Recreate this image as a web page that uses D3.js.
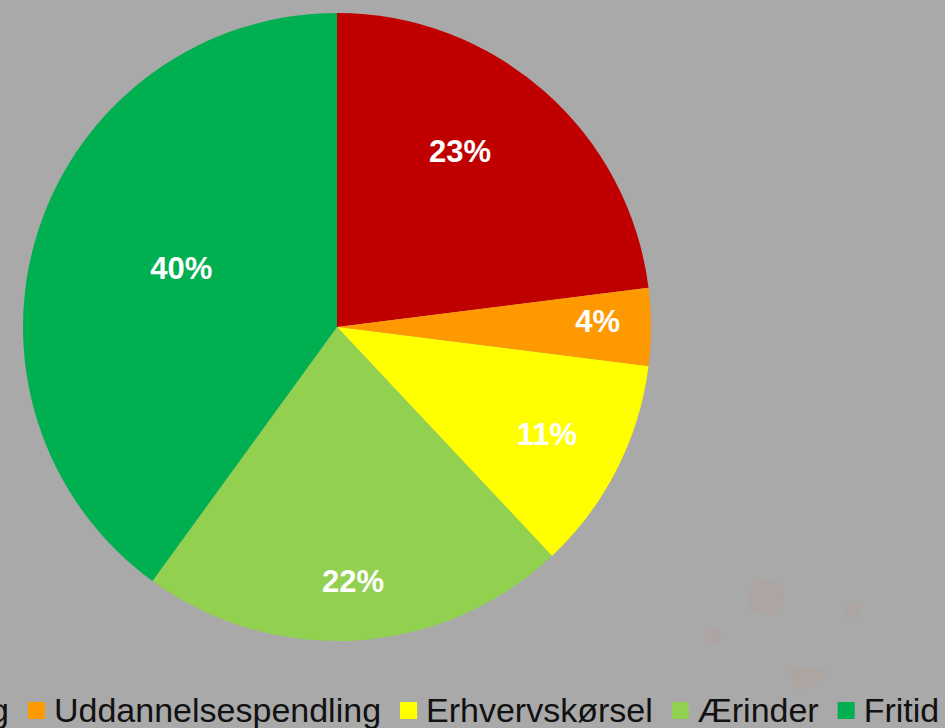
<!DOCTYPE html>
<meta charset="utf-8">
<style>
body { margin: 0; background: #a9a9a9; }
svg { display: block; font-family: "Liberation Sans", Arial, sans-serif; }
</style>
<body>
<script src="https://d3js.org/d3.v7.min.js"></script>
<script>

// Data
var categories = ["Pendling", "Uddannelsespendling", "Erhvervskørsel", "Ærinder", "Fritid"];
var shares = [23, 4, 11, 22, 40];
var colors = ["#c00000", "#ff9900", "#ffff00", "#92d050", "#00b050"];

// label placement (fraction of radius, angle nudge in degrees) - mimics Excel "best fit"
var labelRadius = [0.685, 0.83, 0.75, 0.81, 0.53];
var labelNudge = [-6.5, -1.3, 0, 0, 2.7];

var width = 945, height = 728;
var cx = 337, cy = 327, radius = 314;

var svg = d3.select("body").append("svg")
    .attr("width", width)
    .attr("height", height);

svg.append("rect")
    .attr("width", width)
    .attr("height", height)
    .attr("fill", "#a9a9a9");

// faint background decoration, bottom right
var deco = svg.append("g").attr("fill", "#aca5a2");
deco.append("circle").attr("cx", 766).attr("cy", 597).attr("r", 18);
deco.append("circle").attr("cx", 853).attr("cy", 610).attr("r", 8);
deco.append("circle").attr("cx", 713).attr("cy", 636).attr("r", 8);
deco.append("path").attr("d", "M790,666 L826,670 Q830,676 800,692 Q792,690 790,666 Z");

var g = svg.append("g")
    .attr("transform", "translate(" + cx + "," + cy + ")");

var pie = d3.pie().sort(null).value(function(d) { return d; });
var arcs = pie(shares);

var arc = d3.arc().innerRadius(0).outerRadius(radius);

g.selectAll("path.slice")
    .data(arcs)
  .enter().append("path")
    .attr("class", "slice")
    .attr("d", arc)
    .attr("fill", function(d, i) { return colors[i]; });

// percentage labels
g.selectAll("text.lbl")
    .data(arcs)
  .enter().append("text")
    .attr("class", "lbl")
    .attr("transform", function(d, i) {
      var a = (d.startAngle + d.endAngle) / 2 + labelNudge[i] * Math.PI / 180;
      var r = radius * labelRadius[i];
      return "translate(" + (r * Math.sin(a)) + "," + (-r * Math.cos(a)) + ")";
    })
    .attr("text-anchor", "middle")
    .attr("dy", "0.36em")
    .attr("font-size", "31px")
    .attr("font-weight", "bold")
    .attr("fill", "#ffffff")
    .text(function(d) { return d.data + "%"; });

// legend (flows past both edges, like the original)
var legend = svg.append("g");
var x = 0, sq = 17, gapIn = 9, gapOut = 19, starts = [];
categories.forEach(function(c, i) {
  var item = legend.append("g").attr("transform", "translate(" + x + ",0)");
  item.append("rect")
      .attr("x", 0).attr("y", 702)
      .attr("width", sq).attr("height", sq)
      .attr("fill", colors[i]);
  var t = item.append("text")
      .attr("x", sq + gapIn).attr("y", 722)
      .attr("font-size", "34px")
      .attr("fill", "#111")
      .text(c);
  starts.push(x);
  x += sq + gapIn + t.node().getComputedTextLength() + gapOut;
});
legend.attr("transform", "translate(" + (28 - starts[1]) + ",0)");

</script>
</body>
